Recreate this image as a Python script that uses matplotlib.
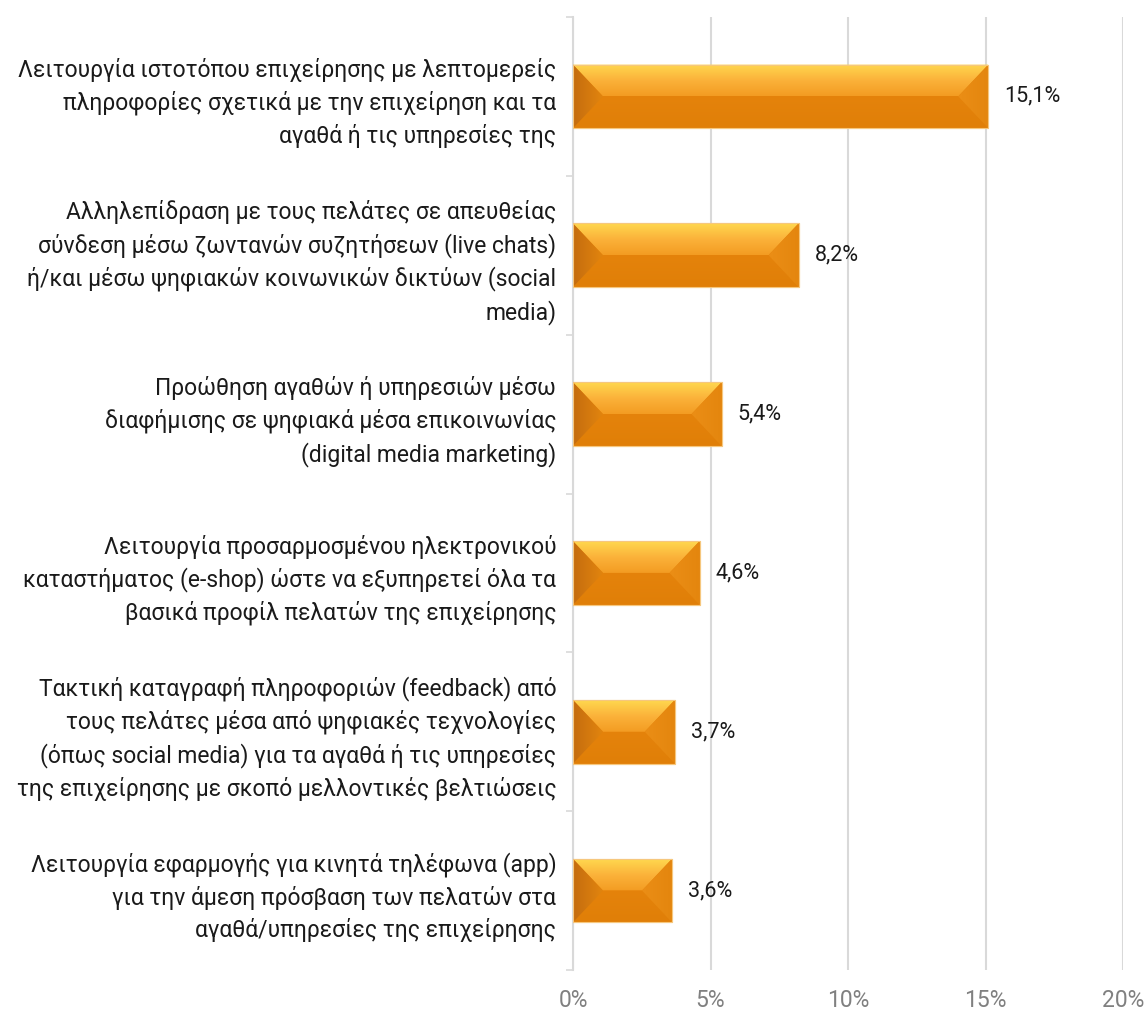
import numpy as np
import matplotlib.pyplot as plt
from matplotlib.patches import Polygon
from matplotlib.colors import LinearSegmentedColormap

plt.rcParams['font.family'] = ['Roboto', 'DejaVu Sans']

categories = [
    "Λειτουργία ιστοτόπου επιχείρησης με λεπτομερείς\nπληροφορίες σχετικά με την επιχείρηση και τα\nαγαθά ή τις υπηρεσίες της",
    "Αλληλεπίδραση με τους πελάτες σε απευθείας\nσύνδεση μέσω ζωντανών συζητήσεων (live chats)\nή/και μέσω ψηφιακών κοινωνικών δικτύων (social\nmedia)",
    "Προώθηση αγαθών ή υπηρεσιών μέσω\nδιαφήμισης σε ψηφιακά μέσα επικοινωνίας\n(digital media marketing)",
    "Λειτουργία προσαρμοσμένου ηλεκτρονικού\nκαταστήματος (e-shop) ώστε να εξυπηρετεί όλα τα\nβασικά προφίλ πελατών της επιχείρησης",
    "Τακτική καταγραφή πληροφοριών (feedback) από\nτους πελάτες μέσα από ψηφιακές τεχνολογίες\n(όπως social media) για τα αγαθά ή τις υπηρεσίες\nτης επιχείρησης με σκοπό μελλοντικές βελτιώσεις",
    "Λειτουργία εφαρμογής για κινητά τηλέφωνα (app)\nγια την άμεση πρόσβαση των πελατών στα\nαγαθά/υπηρεσίες της επιχείρησης",
]
values = [15.1, 8.2, 5.4, 4.6, 3.7, 3.6]
xticks = [0, 5, 10, 15, 20]

W, H = 1145, 1011
fig = plt.figure(figsize=(W / 100, H / 100), dpi=100)
ax = fig.add_axes([573 / W, 1 - 970 / H, 550 / W, 953 / H])

y = np.arange(len(values))
bars = ax.barh(y, values, height=0.40, color='#E5820A', edgecolor='#F6C77E',
               linewidth=0.8, zorder=3)

ax.set_xlim(0, 20)
ax.set_ylim(len(values) - 0.5, -0.5)


def grad_fill(ax, pts, colors, direction, zorder):
    # polygon filled with a linear gradient, clipped to its own outline
    cmap = LinearSegmentedColormap.from_list('g', colors)
    xs, ys = pts[:, 0], pts[:, 1]
    g = np.linspace(0, 1, 128)
    img = g[:, None] if direction == 'v' else g[None, :]
    poly = Polygon(pts, closed=True, facecolor='none', edgecolor='none')
    ax.add_patch(poly)
    im = ax.imshow(img, cmap=cmap, aspect='auto', interpolation='bilinear',
                   extent=(xs.min(), xs.max(), ys.max(), ys.min()) if direction == 'v'
                   else (xs.min(), xs.max(), ys.min(), ys.max()),
                   zorder=zorder)
    im.set_clip_path(poly)


# bevel: ~30 px horizontally, half the bar height vertically
bev = 30 / (550 / 20)
for b in bars:
    x0, w = b.get_x(), b.get_width()
    top, h = b.get_y(), b.get_height()
    x1, bot, mid = x0 + w, top + h, top + h / 2
    top_pts = np.array([[x0, top], [x1, top], [x1 - bev, mid], [x0 + bev, mid]])
    bot_pts = np.array([[x0, bot], [x1, bot], [x1 - bev, mid], [x0 + bev, mid]])
    left_pts = np.array([[x0, top], [x0 + bev, mid], [x0, bot]])
    right_pts = np.array([[x1, top], [x1 - bev, mid], [x1, bot]])
    grad_fill(ax, top_pts, ['#FFD84F', '#FBB23A', '#F39C22'], 'v', 4)
    grad_fill(ax, bot_pts, ['#E5830B', '#E07F08'], 'v', 4)
    grad_fill(ax, left_pts, ['#C46C0E', '#E2850F'], 'h', 4)
    grad_fill(ax, right_pts, ['#EB8E16', '#E4860E'], 'h', 4)
    ax.add_patch(Polygon([[x0, top], [x1, top], [x1, bot], [x0, bot]], closed=True,
                         facecolor='none', edgecolor='#F6C77E', linewidth=0.8, zorder=5))
    ax.text(x1 + 16 / 27.5, b.get_y() + h / 2, f"{b.get_width():.1f}%".replace('.', ','),
            va='center', ha='left', fontsize=15.5, color='#1A1A1A', zorder=6)

ax.set_xticks(xticks)
ax.set_xticklabels([f"{t}%" for t in xticks])
ax.set_yticks(y)
ax.set_yticklabels(categories, fontsize=16.5, color='#1A1A1A', ha='right',
                   linespacing=1.45)
ax.set_yticks(np.arange(-0.5, len(values)), minor=True)

ax.tick_params(axis='y', which='major', length=0, pad=12)
ax.tick_params(axis='y', which='minor', length=5, width=1.2, color='#D9D9D9')
ax.tick_params(axis='x', length=0, pad=14, labelsize=16.5, labelcolor='#808080')

ax.grid(axis='x', color='#D9D9D9', linewidth=1.5, zorder=0)
ax.set_axisbelow(True)
for s in ['top', 'right', 'bottom']:
    ax.spines[s].set_visible(False)
ax.spines['left'].set_color('#D9D9D9')
ax.spines['left'].set_linewidth(1.5)

fig.savefig('out.png', dpi=100)
